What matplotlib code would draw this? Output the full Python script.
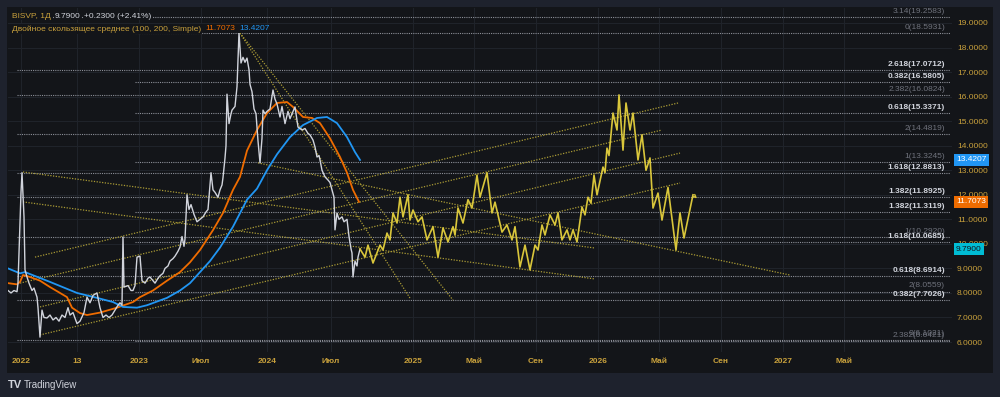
import matplotlib
matplotlib.use("Agg")
import matplotlib.pyplot as plt
from matplotlib.patches import Rectangle
from matplotlib.transforms import IdentityTransform

plt.rcParams['font.family'] = ['Liberation Sans', 'DejaVu Sans']

# --> Colours (TradingView dark theme).
OUTER = '#1e222d'
PANEL = '#131519'
GRID = '#1f232a'
GOLD = '#c9a13c'
WHITE = '#d1d4dc'
ORANGE = '#ef6c00'
BLUE = '#2196f3'
CYAN = '#00bcd4'
YELLOW = '#d9c63b'
TREND = '#aa9b35'
FIBLINE = '#8c8f98'

# --> Time axis: bar index of each label and the label itself.
time_ticks = [21, 77, 139, 201, 267, 331, 413, 474, 536, 598, 659, 721, 783, 844]
time_labels = ['2022', '13', '2023', 'Июл', '2024', 'Июл', '2025', 'Май',
               'Сен', '2026', 'Май', 'Сен', '2027', 'Май']
price_ticks = list(range(6, 20))

# --> Daily close BISVP (bar index, price).
close_bar = [8, 11, 14, 17, 18, 21, 22, 24, 25, 27,
             29, 32, 34, 37, 38, 39, 40, 42, 44, 47,
             50, 53, 56, 59, 62, 65, 68, 70, 73, 77,
             80, 84, 87, 90, 93, 97, 100, 103, 106, 109,
             112, 115, 118, 120, 122, 123, 124, 128, 131, 133,
             135, 137, 140, 142, 145, 148, 150, 153, 155, 158,
             160, 163, 165, 168, 170, 173, 175, 178, 180, 182,
             184, 185, 187, 189, 191, 194, 197, 200, 203, 206,
             208, 211, 213, 215, 218, 220, 222, 223, 225, 226,
             227, 229, 231, 232, 235, 237, 239, 241, 243, 245,
             247, 249, 250, 252, 254, 256, 258, 260, 262, 263,
             265, 267, 270, 273, 275, 277, 280, 282, 285, 288,
             290, 292, 295, 298, 302, 305, 308, 310, 313, 315,
             317, 319, 320, 322, 325, 328, 330, 332, 334, 335,
             337, 339, 342, 344, 347, 349, 351, 352, 353, 355,
             357, 358, 360]
close_px = [8.1, 8.0, 8.1, 8.05, 8.4, 12.1, 12.9, 11.1, 8.94, 8.65,
            8.4, 8.1, 8.2, 7.83, 7.4, 6.78, 6.2, 7.3, 7.0, 6.98,
            7.1, 6.9, 7.0, 6.85, 7.1, 7.0, 7.4, 7.1, 7.2, 6.75,
            6.85, 7.2, 7.83, 7.6, 7.9, 8.0, 7.4, 7.0, 7.1, 7.0,
            7.1, 7.3, 7.5, 7.6, 7.5, 10.28, 8.24, 8.3, 8.1, 8.1,
            8.3, 9.46, 9.5, 8.5, 8.4, 8.6, 8.65, 8.5, 8.4, 8.6,
            8.7, 8.8, 9.0, 9.1, 9.3, 9.4, 9.5, 9.7, 9.87, 10.3,
            9.9, 10.2, 12.0, 11.4, 11.6, 11.2, 10.9, 11.0, 11.1, 11.3,
            11.4, 12.9, 12.2, 12.1, 11.9, 12.2, 12.4, 12.7, 13.5, 14.0,
            16.1, 14.9, 15.3, 15.45, 15.6, 16.4, 18.6, 17.37, 17.6, 17.4,
            17.57, 17.1, 16.5, 16.2, 15.5, 15.3, 14.2, 13.3, 14.3, 15.45,
            15.3, 15.4, 15.5, 16.27, 15.9, 15.7, 15.17, 15.6, 14.9, 15.4,
            15.1, 15.3, 15.58, 14.76, 14.64, 14.7, 14.5, 14.44, 14.23, 13.95,
            13.54, 13.6, 13.42, 13.0, 12.73, 12.6, 12.5, 12.2, 11.9, 10.57,
            11.25, 11.0, 11.1, 10.9, 11.0, 10.3, 9.8, 9.63, 8.65, 9.3,
            9.1, 9.46, 9.79]

# --> Simple moving averages 100 and 200.
sma100_bar = [8, 17, 20, 23, 30, 40, 50, 60, 67, 72,
              80, 87, 100, 117, 133, 140, 153, 167, 180, 190,
              200, 213, 223, 233, 240, 247, 257, 267, 277, 287,
              293, 303, 312, 320, 330, 340, 347, 353, 359]
sma100 = [8.4, 8.35, 8.45, 8.73, 8.65, 8.5, 8.24, 8.0, 7.83, 7.4,
          7.18, 7.1, 7.2, 7.4, 7.63, 7.83, 8.1, 8.5, 8.85, 9.25,
          9.75, 10.56, 11.26, 12.2, 12.73, 13.8, 14.64, 15.33, 15.74, 15.78,
          15.58, 15.17, 15.13, 14.92, 14.3, 13.54, 12.9, 12.2, 11.71]
sma200_bar = [8, 20, 25, 50, 77, 97, 113, 123, 137, 147,
              167, 180, 190, 200, 210, 220, 233, 247, 257, 267,
              277, 290, 303, 317, 327, 337, 347, 355, 360]
sma200 = [9.0, 8.8, 8.85, 8.45, 8.0, 7.8, 7.63, 7.43, 7.4, 7.5,
          7.8, 8.1, 8.4, 8.85, 9.3, 9.85, 10.7, 11.8, 12.25, 13.0,
          13.65, 14.35, 14.84, 15.13, 15.17, 14.92, 14.35, 13.74, 13.42]

# --> Projected path (yellow zigzag).
proj_bar = [360, 365, 368, 373, 380, 383, 387, 390, 393, 397,
            400, 403, 408, 410, 413, 418, 422, 427, 433, 438,
            443, 448, 453, 455, 458, 463, 468, 472, 477, 480,
            487, 492, 495, 502, 507, 512, 515, 520, 525, 530,
            535, 538, 542, 545, 550, 555, 558, 562, 567, 570,
            573, 577, 582, 585, 588, 591, 594, 597, 603, 605,
            607, 609, 613, 617, 619, 623, 626, 630, 633, 638,
            642, 646, 650, 653, 658, 662, 668, 676, 680, 684,
            693]
proj_px = [9.79, 9.46, 9.95, 9.22, 9.95, 9.75, 10.44, 10.16, 11.26, 10.85,
           11.9, 11.1, 12.0, 10.97, 11.38, 10.9, 11.1, 10.16, 10.7, 9.46,
           10.65, 10.08, 10.7, 10.36, 11.46, 10.85, 11.8, 11.46, 12.8, 11.9,
           12.9, 11.26, 11.7, 10.48, 10.77, 10.16, 10.7, 9.06, 9.95, 8.94,
           9.95, 9.75, 10.77, 10.36, 11.18, 10.77, 11.26, 10.16, 10.57, 10.16,
           10.57, 10.08, 11.5, 11.18, 11.9, 11.66, 12.8, 12.0, 13.13, 12.9,
           13.9, 13.6, 15.33, 14.64, 16.07, 13.82, 15.74, 14.64, 15.33, 13.42,
           14.44, 13.0, 13.5, 11.46, 12.07, 10.97, 12.3, 9.75, 11.26, 10.24,
           12.0]

# --> Trend lines: (bar0, price0, bar1, price1).
trend_lines = [
    (23, 12.93, 595, 9.83),
    (23, 11.71, 595, 8.57),
    (258, 13.30, 790, 8.73),
    (240, 18.59, 410, 7.79),
    (240, 18.59, 453, 7.71),
    (35, 9.46, 678, 15.74),
    (20, 8.40, 662, 14.64),
    (40, 7.43, 680, 13.70),
    (40, 6.29, 680, 12.48),
]

# --> Fibonacci levels: label, price, first bar, bright label?
fib_labels = ['3.14(19.2583)', '0(18.5931)', '2.618(17.0712)', '0.382(16.5805)',
              '2.382(16.0824)', '0.618(15.3371)', '2(14.4819)', '1(13.3245)',
              '1.618(12.8813)', '1.382(11.8925)', '1.382(11.3119)', '1(10.2920)',
              '1.618(10.0685)', '0.618(8.6914)', '2(8.0559)', '0.382(7.7026)',
              '0(6.1021)', '2.382(6.0421)']
fib_prices = [19.2583, 18.5931, 17.0712, 16.5805, 16.0824, 15.3371, 14.4819, 13.3245,
              12.8813, 11.8925, 11.3119, 10.2920, 10.0685, 8.6914, 8.0559, 7.7026,
              6.1021, 6.0421]
fib_start = [17, 135, 17, 135, 17, 135, 17, 135,
             17, 17, 135, 17, 135, 17, 135, 17,
             17, 135]
fib_bright = [False, False, True, True, False, True, False, False,
              True, True, True, False, True, True, False, True,
              False, False]

# --> Last values.
last_close = 9.79
last_sma100 = 11.7073
last_sma200 = 13.4207

# --> Figure and chart panel.
fig = plt.figure(figsize=(10, 3.97), dpi=100, facecolor=OUTER)
fig.patches.append(Rectangle((0.007, 24 / 397), 0.986, 366 / 397,
                             transform=fig.transFigure, facecolor=PANEL,
                             edgecolor='none', zorder=-10))
ax = fig.add_axes([0.008, 45 / 397, 0.944, 344 / 397])
ax.set_zorder(1)
ax.set_facecolor(PANEL)
ax.set_xlim(8, 952)
ax.set_ylim(5.594, 19.611)
for s in ax.spines.values():
    s.set_visible(False)

# --> Grid and axes.
ax.set_xticks(time_ticks)
ax.set_xticklabels(time_labels)
ax.set_yticks(price_ticks)
ax.set_yticklabels([f'{v:.4f}' for v in price_ticks])
ax.yaxis.tick_right()
ax.tick_params(axis='x', length=0, pad=4, labelsize=6, labelcolor=GOLD)
ax.tick_params(axis='y', length=0, pad=3.5, labelsize=6, labelcolor=GOLD)
for lab in ax.get_xticklabels():
    lab.set_fontweight('bold')
ax.grid(True, color=GRID, lw=0.8)
ax.set_axisbelow(True)

# --> Fibonacci levels.
for lab, p, x0, bright in zip(fib_labels, fib_prices, fib_start, fib_bright):
    ax.plot([x0, 950], [p, p], color=FIBLINE, lw=0.8, ls=(0, (1, 1)), zorder=1)
    ax.annotate(lab, (945, p), xytext=(0, 1.5), textcoords='offset points',
                ha='right', va='bottom', fontsize=6,
                color=WHITE if bright else '#6f727c',
                fontweight='bold' if bright else 'normal', zorder=6)

# --> Trend lines.
for x0, y0, x1, y1 in trend_lines:
    ax.plot([x0, x1], [y0, y1], color=TREND, lw=0.9, ls=(0, (1, 1.2)), zorder=2)

# --> Moving averages, price and projection.
ax.plot(sma100_bar, sma100, color=ORANGE, lw=1.3, zorder=3)
ax.plot(sma200_bar, sma200, color=BLUE, lw=1.3, zorder=3)
ax.plot(close_bar, close_px, color=WHITE, lw=1.0, zorder=4)
ax.plot(proj_bar, proj_px, color=YELLOW, lw=1.2, zorder=4)
ax.annotate('', xy=(697, 11.85), xytext=(proj_bar[-1], proj_px[-1]),
            arrowprops=dict(arrowstyle='->', color=YELLOW, lw=1.0,
                            mutation_scale=5), zorder=4)

# --> Price tags on the scale.
for val, fc, tc in [(last_sma200, BLUE, 'white'), (last_sma100, ORANGE, 'white'),
                    (last_close, CYAN, '#10141c')]:
    ax.text(1.0 + 4 / 944, val, f'{val:.4f}', transform=ax.get_yaxis_transform(),
            ha='left', va='center', fontsize=6, color=tc, clip_on=False, zorder=10,
            bbox=dict(boxstyle='square,pad=0.3', fc=fc, ec='none'))

# --> Legend in the top left corner.
fig.canvas.draw()
renderer = fig.canvas.get_renderer()


def text_run(x, y, parts):
    for s, c in parts:
        t = fig.text(x, y, s, color=c, fontsize=6, ha='left', va='center',
                     transform=IdentityTransform(), zorder=8,
                     bbox=dict(boxstyle='square,pad=0.1', fc=PANEL, ec='none'))
        x += t.get_window_extent(renderer).width + 4


text_run(12, 397 - 16, [('BISVP, 1Д', GOLD), ('9.7900', WHITE),
                        ('+0.2300 (+2.41%)', WHITE)])
text_run(12, 397 - 29, [('Двойное скользящее среднее (100, 200, Simple)', GOLD),
                        (f'{last_sma100:.4f}', ORANGE), (f'{last_sma200:.4f}', BLUE)])

# --> TradingView mark.
fig.text(8 / 1000, 12 / 397, 'TV', color=WHITE, fontsize=8, fontweight='bold',
         ha='left', va='center')
fig.text(24 / 1000, 12 / 397, 'TradingView', color=WHITE, fontsize=7,
         ha='left', va='center')

fig.savefig('out.png', dpi=100, facecolor=fig.get_facecolor())
